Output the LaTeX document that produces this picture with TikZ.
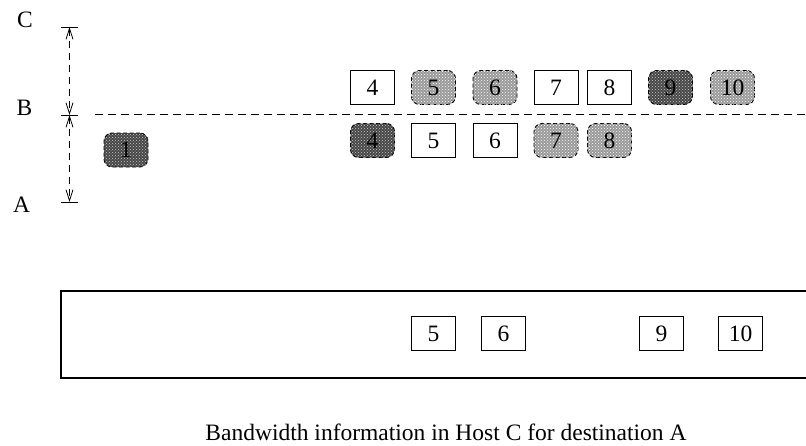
\documentclass[tikz,border=0pt]{standalone}
\usepackage{fontspec}
\setmainfont{Liberation Serif}
\usetikzlibrary{positioning,arrows.meta,patterns}

\begin{document}
\begin{tikzpicture}[
  x=1pt, y=-1pt, font=\fontsize{23.5}{28}\selectfont,
  >={Straight Barb[length=11pt,width=7pt]},
  pkt/.style={draw, line width=0.9pt, minimum width=44pt, minimum height=34pt,
              inner sep=0pt},
  blob/.style={pkt, rounded corners=8pt, dash pattern=on 4pt off 2.5pt},
  darkblob/.style={blob, fill=black!72,
                   postaction={pattern=crosshatch dots, pattern color=white!80!black}},
  lightblob/.style={blob, fill=black!40,
                    postaction={pattern=crosshatch dots, pattern color=white}},
  gap/.style={<->, line width=0.8pt, dash pattern=on 7pt off 5pt},
]
  \useasboundingbox (0,0) rectangle (806,445);

  % levels A, B, C
  \node[anchor=base] (labC) at (25,27) {C};
  \node[anchor=base] (labB) at (24.5,115) {B};
  \node[anchor=base] (labA) at (21.5,212) {A};
  \coordinate (tC) at (69.5,27);
  \coordinate (tB) at (69.5,115);
  \coordinate (tA) at (69.5,202);
  \foreach \t in {tC,tB,tA}
    \draw[line width=0.9pt] ([xshift=-8.5pt]\t) -- ([xshift=8.5pt]\t);
  \draw[gap] (tC) -- (tB);
  \draw[gap] (tB) -- (tA);

  % boundary at B
  \coordinate (bl) at (95,114);
  \coordinate (br) at (806,114);
  \draw[line width=0.9pt, dash pattern=on 8pt off 5pt] (bl) -- (br);

  \node[darkblob] (p1) at (126,150) {1};

  % above B
  \node[pkt]       (u4)  at (372.5,87.5) {4};
  \node[lightblob] (u5)  at (433.5,87.5) {5};
  \node[lightblob] (u6)  at (495,87.5)   {6};
  \node[pkt]       (u7)  at (556,87.5)   {7};
  \node[pkt]       (u8)  at (609.5,87.5) {8};
  \node[darkblob]  (u9)  at (670.5,87.5) {9};
  \node[lightblob] (u10) at (732.5,87.5) {10};

  % below B
  \node[darkblob]  (d4) at (372.5,140.5) {4};
  \node[pkt]       (d5) at (433.5,140.5) {5};
  \node[pkt]       (d6) at (495,140.5)   {6};
  \node[lightblob] (d7) at (556,140.5)   {7};
  \node[lightblob] (d8) at (609.5,140.5) {8};

  % host C table
  \coordinate (hTR) at (806,291);
  \coordinate (hBL) at (61,378);
  \coordinate (hBR) at (806,378);
  \draw[line width=1.3pt] (hTR) -| (hBL) -- (hBR);
  \node[pkt] (h5)  at (433.5,333.5) {5};
  \node[pkt] (h6)  at (503.5,333.5) {6};
  \node[pkt] (h9)  at (661.5,333.5) {9};
  \node[pkt] (h10) at (740.5,333.5) {10};

  \node[anchor=base] (cap) at (446,440)
        {Bandwidth information in Host C for destination A};
\end{tikzpicture}
\end{document}
